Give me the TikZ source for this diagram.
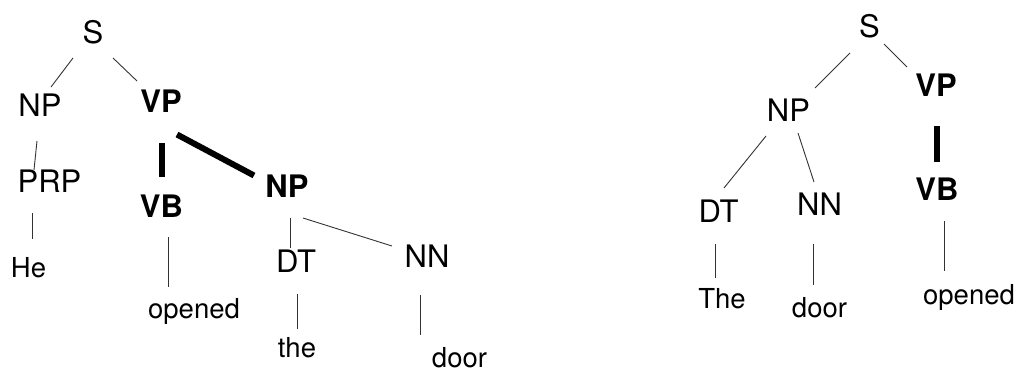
\documentclass[tikz,border=0pt]{standalone}
\usepackage{fontspec}
\setmainfont{TeX Gyre Heros}
\usetikzlibrary{calc}
\tikzset{
  lbl/.style={inner sep=0pt, outer sep=0pt, font=\fontsize{31}{36}\selectfont},
  blbl/.style={lbl, font=\fontsize{31}{36}\selectfont\bfseries},
  word/.style={inner sep=0pt, outer sep=0pt, font=\fontsize{27.5}{32}\selectfont},
  thinedge/.style={line width=0.9pt, draw=black!80},
  thickedge/.style={line width=6pt, draw=black}
}
\begin{document}
\begin{tikzpicture}[x=1pt,y=-1pt]
\useasboundingbox (0,0) rectangle (1018,370);
% ---- left tree ----
\node[lbl]  (S1)   at (93,32.5)   {S};
\node[lbl]  (NP1)  at (40,105)    {NP};
\node[blbl] (VP1)  at (161,101.5) {VP};
\node[lbl]  (PRP1) at (49.5,181.5){PRP};
\node[blbl] (VB1)  at (161.5,206) {VB};
\node[blbl] (NP2)  at (287,186.5) {NP};
\node[lbl]  (DT1)  at (296,261.5) {DT};
\node[lbl]  (NN1)  at (427,256)   {NN};
\node[word] (He)   at (28.5,267.5){He};
\node[word] (op1)  at (194,311)   {opened};
\node[word] (the)  at (297,347.5) {the};
\node[word] (door1) at (459.5,357.5) {door};
\draw[thinedge] ($(S1)+(-20,25.5)$) -- ($(NP1)+(11,-18)$);
\draw[thinedge] ($(S1)+(20,25.5)$) -- ($(VP1)+(-24,-20.5)$);
\draw[thinedge] ($(NP1)+(-3,36)$) -- ($(PRP1)+(-15.5,-11.5)$);
\draw[thickedge] ($(VP1)+(1,41.5)$) -- ($(VB1)+(0.5,-29)$);
\draw[thickedge] ($(VP1)+(16,33)$) -- ($(NP2)+(-33,-11)$);
\draw[thinedge] ($(PRP1)+(-17.5,31.5)$) -- ($(He)+(3.5,-28.5)$);
\draw[thinedge] ($(VB1)+(6.5,31)$) -- ($(op1)+(-26,-24)$);
\draw[thinedge] ($(NP2)+(3,31.5)$) -- ($(DT1)+(-6,-13.5)$);
\draw[thinedge] ($(NP2)+(16,31.5)$) -- ($(NN1)+(-35,-10)$);
\draw[thinedge] ($(DT1)+(1,32.5)$) -- ($(the)+(0,-18.5)$);
\draw[thinedge] ($(NN1)+(-7,39)$) -- ($(door1)+(-39.5,-22.5)$);
% ---- right tree ----
\node[lbl]  (S2)   at (869.5,26)   {S};
\node[lbl]  (NP3)  at (788.5,110.5){NP};
\node[blbl] (VP2)  at (936,85.5)   {VP};
\node[blbl] (VB2)  at (937,189.5)  {VB};
\node[lbl]  (DT2)  at (718.5,211.5){DT};
\node[lbl]  (NN2)  at (819.5,204.5){NN};
\node[word] (The)  at (722,299)    {The};
\node[word] (door2) at (819.5,308) {door};
\node[word] (op2)  at (969,297.5)  {opened};
\draw[thinedge] ($(S2)+(-19.5,27)$) -- ($(NP3)+(26.5,-22.5)$);
\draw[thinedge] ($(S2)+(14.5,18)$) -- ($(VP2)+(-29,-18.5)$);
\draw[thinedge] ($(NP3)+(-22.5,25.5)$) -- ($(DT2)+(5.5,-23.5)$);
\draw[thinedge] ($(NP3)+(9.5,22.5)$) -- ($(NN2)+(-5.5,-22.5)$);
\draw[thickedge] ($(VP2)+(1,40.5)$) -- ($(VB2)+(0,-27.5)$);
\draw[thinedge] ($(DT2)+(-3.5,32.5)$) -- ($(The)+(-7,-21)$);
\draw[thinedge] ($(NN2)+(-6.5,39.5)$) -- ($(door2)+(-6.5,-23)$);
\draw[thinedge] ($(VB2)+(7,31.5)$) -- ($(op2)+(-25,-26.5)$);
\end{tikzpicture}
\end{document}
